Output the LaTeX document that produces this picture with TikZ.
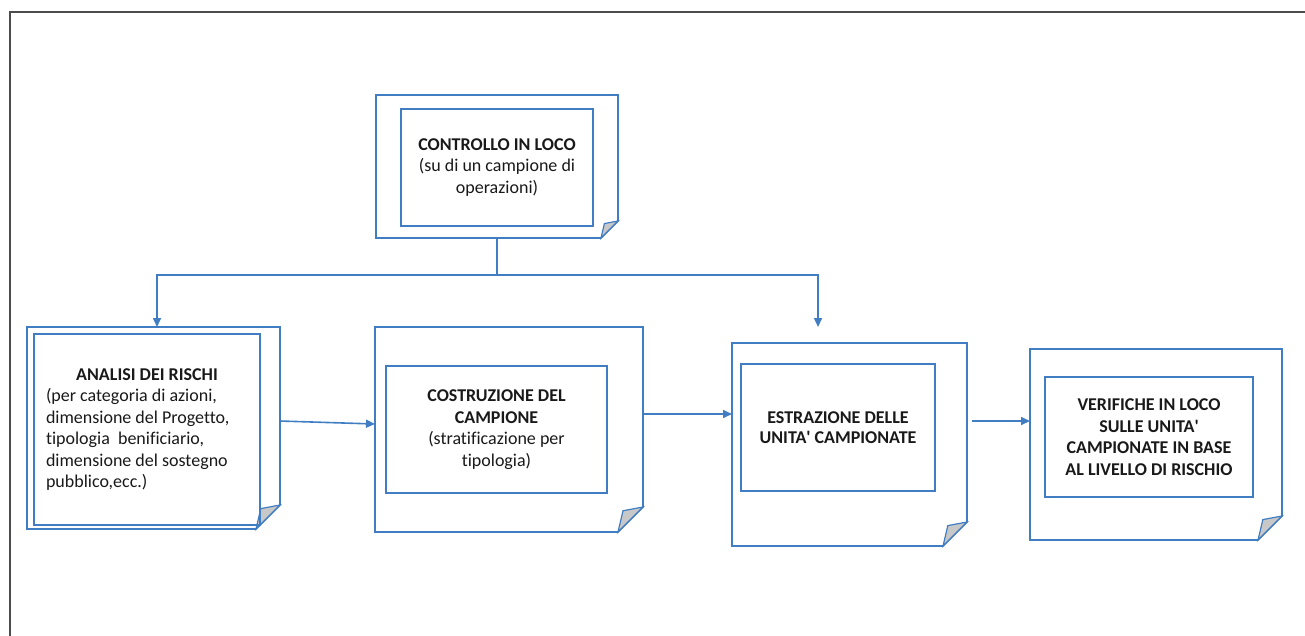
\documentclass[tikz,border=0pt]{standalone}
\usepackage{fontspec}
\setmainfont[Ligatures={NoCommon}]{Carlito}
\usetikzlibrary{arrows.meta,calc}
\definecolor{bl}{RGB}{65,125,195}
\definecolor{foldgray}{RGB}{200,200,200}
\newcommand\pageshape[2]{%
  \draw[boxline] (#1.north west) -- (#1.north east) -- ([yshift=#2pt]#1.south east) -- ([xshift=-#2pt]#1.south east) -- (#1.south west) -- cycle;
  \draw[boxline, fill=foldgray, line width=1.2pt] ([yshift=#2pt]#1.south east) -- ([xshift=-#2pt]#1.south east) -- ([xshift={-0.8*#2pt},yshift={0.85*#2pt}]#1.south east) -- cycle;}
\newcommand\apos{{\addfontfeature{Ligatures=TeXOff}'}}
\begin{document}
\begin{tikzpicture}[x=1pt,y=-1pt,
  boxline/.style={draw=bl, line width=1.6pt, line join=miter},
  pagenode/.style={inner sep=0pt, outer sep=0pt},
  inbox/.style={draw=bl, line width=1.6pt, inner sep=0pt, outer sep=0pt, align=center, font=\fontsize{18}{21.5}\selectfont, text=black!90},
  conn/.style={draw=bl, line width=1.6pt, -{Triangle[length=9pt,width=8pt]}}]
\useasboundingbox (0,0) rectangle (1305,635);
\draw[black!70, line width=1.5pt] (10,640) -- (10,12) -- (1310,12);

% CONTROLLO
\node[pagenode, minimum width=242pt, minimum height=143pt] (ctrl) at (497,166.5) {};
\pageshape{ctrl}{17}
\node[inbox, minimum width=192pt, minimum height=117pt] (ctrlin) at (497,167.5)
  {\textbf{CONTROLLO IN LOCO}\\(su di un campione di\\operazioni)};

% ANALISI
\node[pagenode, minimum width=253pt, minimum height=202pt] (ana) at (153.5,428) {};
\pageshape{ana}{24}
\node[inbox, align=flush left, text width=202pt, inner xsep=12pt, minimum height=191pt] (anain) at (147,429.5)
  {\makebox[202pt][c]{\textbf{ANALISI DEI RISCHI}}\\(per categoria di azioni,\\dimensione del Progetto,\\tipologia\ \ benificiario,\\dimensione del sostegno\\pubblico,ecc.)};

% COSTRUZIONE
\node[pagenode, minimum width=268pt, minimum height=205pt] (cos) at (509,429.5) {};
\pageshape{cos}{25}
\node[inbox, minimum width=221pt, minimum height=127pt] (cosin) at (496.5,429.5)
  {\textbf{COSTRUZIONE DEL}\\\textbf{CAMPIONE}\\(stratificazione per\\tipologia)};

% ESTRAZIONE
\node[pagenode, minimum width=235pt, minimum height=203pt] (estr) at (849.5,444.5) {};
\pageshape{estr}{24}
\node[inbox, minimum width=194pt, minimum height=127pt, font=\fontsize{18}{19.5}\selectfont] (estrin) at (838,427.5)
  {\textbf{ESTRAZIONE DELLE}\\\textbf{UNITA\apos{} CAMPIONATE}};

% VERIFICHE
\node[pagenode, minimum width=252pt, minimum height=191pt] (ver) at (1156,444.5) {};
\pageshape{ver}{24}
\node[inbox, minimum width=208pt, minimum height=120pt] (verin) at (1149,437)
  {\textbf{VERIFICHE IN LOCO}\\\textbf{SULLE UNITA\apos}\\\textbf{CAMPIONATE IN BASE}\\\textbf{AL LIVELLO DI RISCHIO}};

% connectors
\coordinate (j) at ([yshift=-37pt]ctrl.south);
\draw[boxline] (ctrl.south) -- (j);
\draw[conn] (j) -| ([xshift=3.5pt]ana.north);
\draw[conn] (j) -| ([xshift=-31.5pt,yshift=16pt]estr.north);
\draw[conn] ([yshift=7pt]ana.east) -- ([yshift=5.5pt]cos.west);
\draw[conn] ([yshift=15.5pt]cos.east) -- ([yshift=30.5pt]estr.west);
\draw[conn] ([xshift=5pt,yshift=23.5pt]estr.east) -- ([yshift=23.5pt]ver.west);
\end{tikzpicture}
\end{document}
